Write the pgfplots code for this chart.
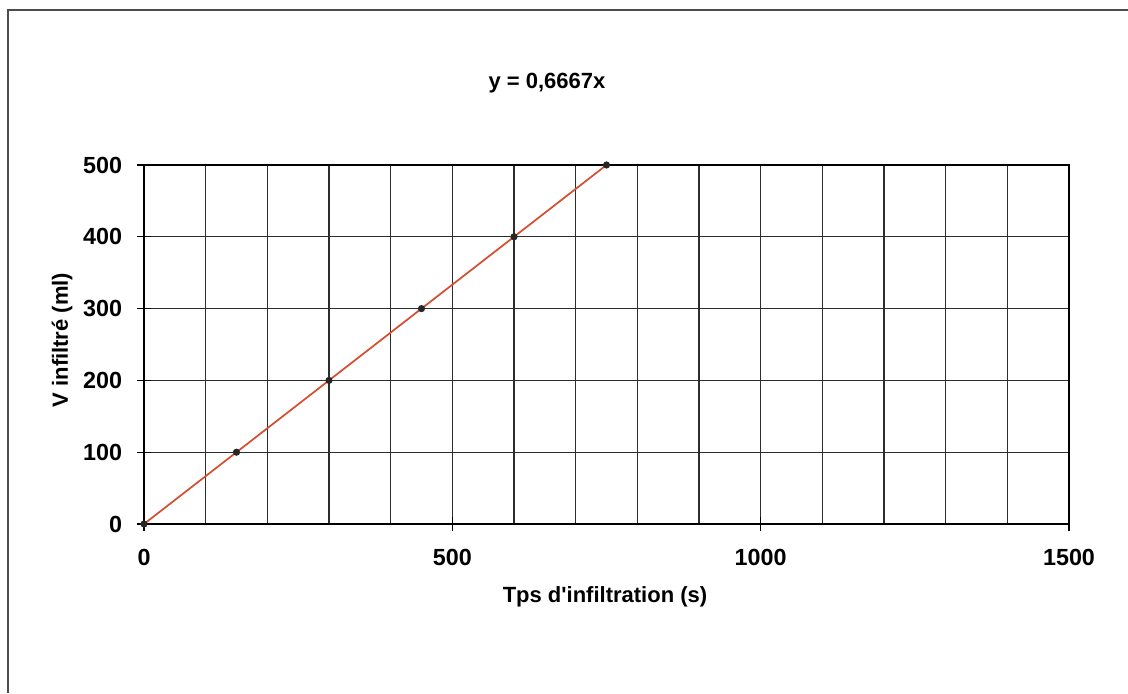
\documentclass[border=0pt]{standalone}
\usepackage{pgfplots}
\pgfplotsset{compat=1.18}
\usepackage{fontspec}
\setmainfont{Liberation Sans}
\definecolor{linered}{RGB}{212,78,48}
\definecolor{gridc}{RGB}{45,45,45}
\begin{document}
\begin{tikzpicture}
\path[use as bounding box] (0,0) rectangle (846pt,519.75pt);
\draw[line width=1.5pt, gray!60!black] (6pt,0pt) -- (6pt,512.25pt) -- (846pt,512.25pt);
\begin{axis}[
  at={(108pt,126.75pt)}, anchor=south west,
  scale only axis, width=693.75pt, height=269.25pt,
  xmin=0, xmax=1500, ymin=0, ymax=500,
  xtick={0,500,1000,1500}, ytick={0,100,...,500},
  minor x tick num=4,
  grid=both,
  major grid style={gridc, line width=0.9pt},
  minor grid style={gridc, line width=0.9pt},
  axis line style={black, line width=1.5pt},
  tick pos=left,
  tick align=center,
  major tick length=11pt, minor tick length=0pt,
  major tick style={black, line width=1pt},
  /pgf/number format/assume math mode=true,
  /pgf/number format/1000 sep={},
  ticklabel style={font=\bfseries\fontsize{17.5}{20}\selectfont},
  yticklabel style={anchor=east, inner sep=0pt, xshift=-10.75pt},
  xticklabel style={anchor=north, inner sep=0pt, yshift=-13.25pt},
  clip=false,
]
\addplot[linered, line width=1.3pt, mark=*, mark size=2pt, mark options={fill=black!85, draw=black!85}]
  coordinates {(0,0) (150,100) (300,200) (450,300) (600,400) (750,500)};
\end{axis}
\node[font=\bfseries\fontsize{16.5}{19}\selectfont] at (410.25pt,457.5pt) {y = 0,6667x};
\node[font=\bfseries\fontsize{16.5}{19}\selectfont] at (453.75pt,72pt) {Tps d\textquotesingle infiltration (s)};
\node[font=\bfseries\fontsize{16.5}{19}\selectfont, rotate=90] at (46.5pt,264.75pt) {V infiltré (ml)};
\end{tikzpicture}
\end{document}
